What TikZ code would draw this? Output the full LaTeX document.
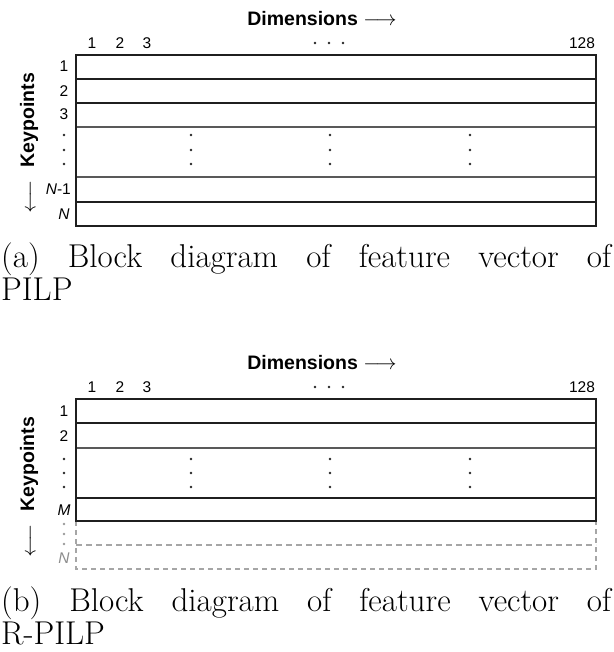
\documentclass[tikz,border=0pt]{standalone}
\usepackage{fontspec}
\newfontfamily\lab{Liberation Sans}
\begin{document}
\begin{tikzpicture}[x=1pt,y=-1pt]
\useasboundingbox (0,0) rectangle (613,652);
\tikzset{
  rowthick/.style={draw=black!88, line width=1.7pt},
  rowthin/.style={draw=black!65, line width=1.1pt},
  ghost/.style={draw=black!35, line width=1.2pt, dash pattern=on 5pt off 4pt},
  ghostmid/.style={draw=black!35, line width=1.6pt, dash pattern=on 6pt off 4pt},
  lbl/.style={font=\lab\fontsize{15.5}{18}\selectfont, inner sep=0pt},
  ttl/.style={font=\lab\bfseries\fontsize{19.5}{22}\selectfont, inner sep=0pt},
  captxt/.style={font=\fontsize{33}{35}\selectfont, inner sep=0pt, anchor=base west},
  dotn/.style={circle, fill=black!85, inner sep=0pt, minimum size=2.8pt},
  gdotn/.style={circle, fill=black!40, inner sep=0pt, minimum size=2.8pt},
}
% ================= (a) =================
\node[ttl] (adim) at (322,19) {Dimensions $\longrightarrow$};
\node[lbl] (ac1) at (92,43) {1};
\node[lbl] (ac2) at (120,43) {2};
\node[lbl] (ac3) at (147,43) {3};
\node[dotn] (acd1) at (315,43) {};
\node[dotn] (acd2) at (329,43) {};
\node[dotn] (acd3) at (343,43) {};
\node[lbl] (ac128) at (582,43) {128};
\node[ttl, rotate=90] (akey) at (29,120) {Keypoints};
\node[ttl, rotate=-90] (aarr) at (29,197) {$\longrightarrow$};
\node[lbl] (ar1) at (64,66) {1};
\node[lbl] (ar2) at (64,91) {2};
\node[lbl] (ar3) at (64,114) {3};
\node[dotn] (ard1) at (64,135) {};
\node[dotn] (ard2) at (64,150) {};
\node[dotn] (ard3) at (64,164) {};
\node[lbl, anchor=east] (arn1) at (71,189) {\textit{N}-1};
\node[lbl] (arn) at (64,214) {\textit{N}};
\draw[rowthin] (76,127) -- (596,127) (76,177) -- (596,177);
\draw[rowthick] (76,55) rectangle (596,226);
\draw[rowthick] (76,79) -- (596,79) (76,103) -- (596,103) (76,202) -- (596,202);
\foreach \x [count=\i] in {191,330,470} {
  \node[dotn] (am\i a) at (\x,135) {};
  \node[dotn] (am\i b) at (\x,150) {};
  \node[dotn] (am\i c) at (\x,164) {};
}
\node[captxt] (acap1) at (1,267) {\makebox[610pt][s]{(a) Block diagram of feature vector of}};
\node[captxt] (acap2) at (1,300) {PILP};
% ================= (b) =================
\begin{scope}[yshift=-344pt]
\node[ttl] (bdim) at (322,19) {Dimensions $\longrightarrow$};
\node[lbl] (bc1) at (92,43) {1};
\node[lbl] (bc2) at (120,43) {2};
\node[lbl] (bc3) at (147,43) {3};
\node[dotn] (bcd1) at (315,43) {};
\node[dotn] (bcd2) at (329,43) {};
\node[dotn] (bcd3) at (343,43) {};
\node[lbl] (bc128) at (582,43) {128};
\node[ttl, rotate=90] (bkey) at (29,120) {Keypoints};
\node[ttl, rotate=-90] (barr) at (29,197) {$\longrightarrow$};
\node[lbl] (br1) at (64,67) {1};
\node[lbl] (br2) at (64,92) {2};
\node[dotn] (brd1) at (64,115) {};
\node[dotn] (brd2) at (64,129) {};
\node[dotn] (brd3) at (64,143) {};
\node[lbl] (brm) at (64,166) {\textit{M}};
\node[gdotn] (bgd1) at (64,180) {};
\node[gdotn] (bgd2) at (64,190) {};
\node[gdotn] (bgd3) at (64,200) {};
\node[lbl, text=black!45] (brn) at (64,214) {\textit{N}};
\draw[ghost] (76,177) -- (76,225) -- (596,225) -- (596,177);
\draw[ghostmid] (76,201) -- (596,201);
\draw[rowthin] (76,104) -- (596,104);
\draw[rowthick] (76,55) rectangle (596,177);
\draw[rowthick] (76,79) -- (596,79) (76,154) -- (596,154);
\foreach \x [count=\i] in {191,330,470} {
  \node[dotn] (bm\i a) at (\x,115) {};
  \node[dotn] (bm\i b) at (\x,129) {};
  \node[dotn] (bm\i c) at (\x,143) {};
}
\node[captxt] (bcap1) at (1,267) {\makebox[610pt][s]{(b) Block diagram of feature vector of}};
\node[captxt] (bcap2) at (1,300) {R-PILP};
\end{scope}
\end{tikzpicture}
\end{document}
